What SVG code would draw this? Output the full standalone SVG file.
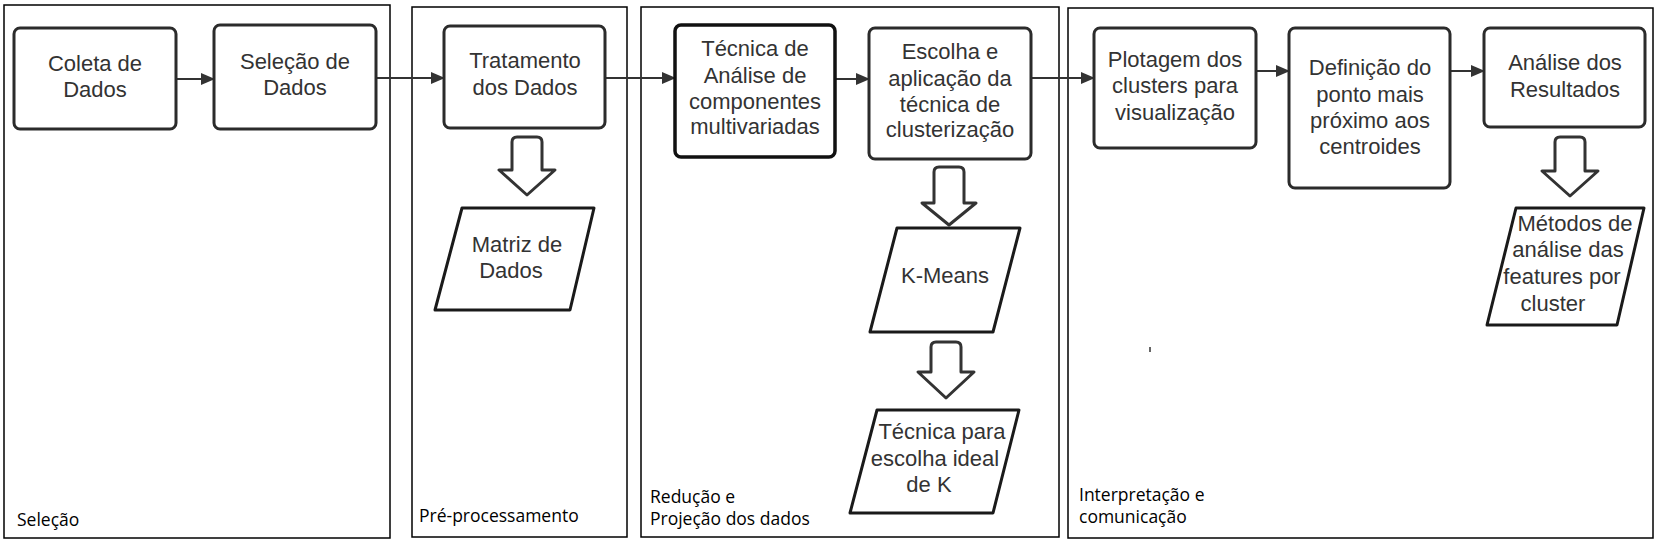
<svg xmlns="http://www.w3.org/2000/svg" width="1663" height="547" viewBox="0 0 1663 547">
<style>
.panel{fill:none;stroke:#000;stroke-width:1.5}
.box{fill:#fff;stroke:#2b2b2b;stroke-width:3}
.boxd{fill:#fff;stroke:#111;stroke-width:3.5}
.para{fill:#fff;stroke:#1a1a1a;stroke-width:3;stroke-linejoin:round}
.blk{fill:#fff;stroke:#333;stroke-width:3;stroke-linejoin:round}
.t{font-family:"Liberation Sans",Arial,sans-serif;font-size:22px;fill:#333;text-anchor:middle}
.lbl{font-family:"Open Sans","Noto Sans",sans-serif;font-size:17.5px;fill:#000}
.con{stroke:#333;stroke-width:2;fill:none;marker-end:url(#ah)}
</style>
<defs>
<marker id="ah" markerWidth="14" markerHeight="12" refX="13" refY="6" orient="auto" markerUnits="userSpaceOnUse">
<path d="M0,0 L14,6 L0,12 Z" fill="#333"/>
</marker>
</defs>
<rect width="1663" height="547" fill="#fff"/>
<g id="panels">
<g id="panel-selecao"><rect class="panel" x="4" y="5" width="386" height="533"/><text class="lbl" x="17" y="526">Seleção</text></g>
<g id="panel-preproc"><rect class="panel" x="412" y="7" width="215" height="530"/><text class="lbl" x="419" y="522">Pré-processamento</text></g>
<g id="panel-reducao"><rect class="panel" x="641" y="7" width="418" height="530"/><text class="lbl" x="650" y="503">Redução e</text><text class="lbl" x="650" y="525">Projeção dos dados</text></g>
<g id="panel-interp"><rect class="panel" x="1068" y="8" width="585" height="530"/><text class="lbl" x="1079" y="501">Interpretação e</text><text class="lbl" x="1079" y="523">comunicação</text><line x1="1150" y1="347" x2="1150" y2="352" stroke="#333" stroke-width="1.5"/></g>
</g>
<g id="connectors">
<line class="con" x1="176" y1="79" x2="214" y2="79"/>
<line class="con" x1="376" y1="78" x2="444" y2="78"/>
<line class="con" x1="605" y1="78" x2="675" y2="78"/>
<line class="con" x1="835" y1="79" x2="869" y2="79"/>
<line class="con" x1="1031" y1="78" x2="1094" y2="78"/>
<line class="con" x1="1256" y1="71" x2="1289" y2="71"/>
<line class="con" x1="1450" y1="71" x2="1484" y2="71"/>
<path class="blk" d="M512,170 V142 Q512,137 517,137 H537 Q542,137 542,142 V170 H555 L527,195 L499,170 Z"/>
<path class="blk" d="M934,203 V172 Q934,167 939,167 H959 Q964,167 964,172 V203 H976 L949,225 L922,203 Z"/>
<path class="blk" d="M931,372 V347 Q931,342 936,342 H956 Q961,342 961,347 V372 H974 L946,398 L918,372 Z"/>
<path class="blk" d="M1555,171 V142 Q1555,137 1560,137 H1580 Q1585,137 1585,142 V171 H1598 L1570,196 L1542,171 Z"/>
</g>
<g id="n-coleta"><rect class="box" x="14" y="28" width="162" height="101" rx="6"/><text class="t" x="95" y="71">Coleta de</text><text class="t" x="95" y="97">Dados</text></g>
<g id="n-selecao"><rect class="box" x="214" y="25" width="162" height="104" rx="6"/><text class="t" x="295" y="69">Seleção de</text><text class="t" x="295" y="95">Dados</text></g>
<g id="n-tratamento"><rect class="box" x="444" y="26" width="161" height="102" rx="6"/><text class="t" x="525" y="68">Tratamento</text><text class="t" x="525" y="95">dos Dados</text></g>
<g id="n-matriz"><path class="para" d="M462,208 L594,208 L570,310 L435,310 Z"/><text class="t" x="517" y="252">Matriz de</text><text class="t" x="511" y="278">Dados</text></g>
<g id="n-tecnica"><rect class="boxd" x="675" y="25" width="160" height="132" rx="6"/><text class="t" x="755" y="56">Técnica de</text><text class="t" x="755" y="83">Análise de</text><text class="t" x="755" y="109">componentes</text><text class="t" x="755" y="134">multivariadas</text></g>
<g id="n-escolha"><rect class="box" x="869" y="28" width="162" height="131" rx="6"/><text class="t" x="950" y="59">Escolha e</text><text class="t" x="950" y="86">aplicação da</text><text class="t" x="950" y="112">técnica de</text><text class="t" x="950" y="137">clusterização</text></g>
<g id="n-kmeans"><path class="para" d="M897,228 L1020,228 L993,332 L870,332 Z"/><text class="t" x="945" y="283">K-Means</text></g>
<g id="n-tecnicak"><path class="para" d="M877,410 L1019,410 L993,513 L850,513 Z"/><text class="t" x="942" y="439">Técnica para</text><text class="t" x="935" y="466">escolha ideal</text><text class="t" x="929" y="492">de K</text></g>
<g id="n-plotagem"><rect class="box" x="1094" y="28" width="162" height="120" rx="6"/><text class="t" x="1175" y="67">Plotagem dos</text><text class="t" x="1175" y="93">clusters para</text><text class="t" x="1175" y="120">visualização</text></g>
<g id="n-definicao"><rect class="box" x="1289" y="28" width="161" height="160" rx="6"/><text class="t" x="1370" y="75">Definição do</text><text class="t" x="1370" y="102">ponto mais</text><text class="t" x="1370" y="128">próximo aos</text><text class="t" x="1370" y="154">centroides</text></g>
<g id="n-analise"><rect class="box" x="1484" y="28" width="161" height="99" rx="6"/><text class="t" x="1565" y="70">Análise dos</text><text class="t" x="1565" y="97">Resultados</text></g>
<g id="n-metodos"><path class="para" d="M1516,208 L1644,208 L1617,325 L1487,325 Z"/><text class="t" x="1575" y="231">Métodos de</text><text class="t" x="1568" y="257">análise das</text><text class="t" x="1562" y="284">features por</text><text class="t" x="1553" y="311">cluster</text></g>
</svg>
